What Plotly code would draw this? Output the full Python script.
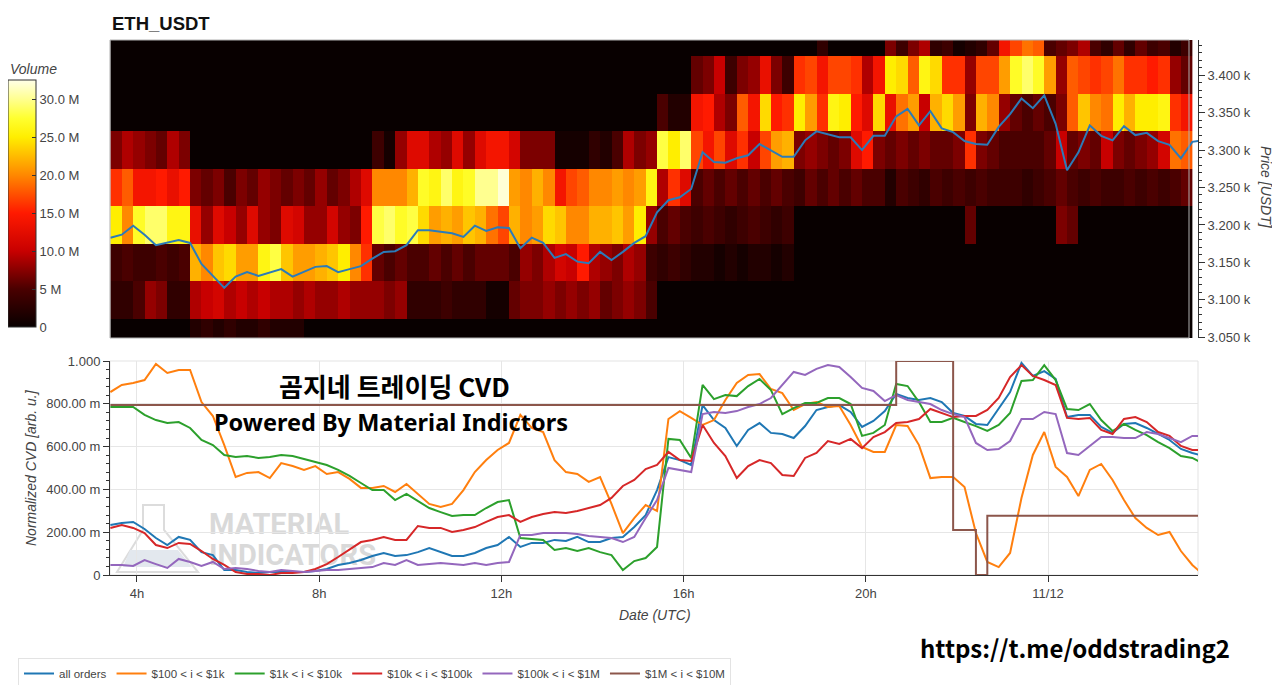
import pandas as pd
import plotly.graph_objects as go

# ---------------- page geometry helpers (layout only) ----------------
OFF_X, OFF_Y = 8, 8
FW, FH = 1272, 677


def px(x):
    return (x - OFF_X) / FW


def py(y):
    return 1 - (y - OFF_Y) / FH


FONT = "Liberation Sans, Arial, sans-serif"
KFONT = "Noto Sans CJK KR, Noto Sans, sans-serif"
LFONT = "Noto Sans, Open Sans, sans-serif"

# ---------------- data ----------------
times = pd.date_range("2024-11-11 03:25", periods=97, freq="15min")
hm_edges = times[:96]

price_levels = [3050, 3100, 3150, 3200, 3250, 3300, 3350, 3400, 3450]
price_ticks = [3050, 3100, 3150, 3200, 3250, 3300, 3350, 3400]
price_ticktext = ["3.050 k", "3.100 k", "3.150 k", "3.200 k", "3.250 k", "3.300 k", "3.350 k", "3.400 k"]

# volume per price bin (million USDT), 15-min columns
vol_3450 = [0, 0, 0, 0, 0, 0, 0, 0, 0, 0, 0, 0, 0, 0, 0, 0, 0, 0, 0,
            0, 0, 0, 0, 0, 0, 0, 0, 0, 0, 0, 0, 0, 0, 0, 0, 0, 0, 0,
            0, 0, 0, 0, 0, 0, 0, 0, 0, 0, 0, 0, 0, 0, 0, 0, 0, 0, 0,
            0, 0, 0, 0, 0, 3, 0, 0, 0, 0, 0, 7, 4, 7, 9, 3, 4, 1, 2,
            3, 6, 14, 17, 19, 18, 5, 6, 7, 9, 5, 3, 6, 3, 6, 4, 5, 2, 4]
vol_3400 = [0, 0, 0, 0, 0, 0, 0, 0, 0, 0, 0, 0, 0, 0, 0, 0, 0, 0, 0,
            0, 0, 0, 0, 0, 0, 0, 0, 0, 0, 0, 0, 0, 0, 0, 0, 0, 0, 0,
            0, 0, 0, 0, 0, 0, 0, 0, 0, 0, 0, 0, 0, 6, 7, 10, 4, 7, 8,
            13, 7, 4, 16, 17, 14, 17, 17, 16, 9, 14, 25, 24, 18, 26, 24, 16, 16, 8,
            17, 17, 21, 27, 29, 27, 21, 8, 18, 17, 16, 17, 19, 16, 16, 15, 16, 8, 6]
vol_3350 = [0, 0, 0, 0, 0, 0, 0, 0, 0, 0, 0, 0, 0, 0, 0, 0, 0, 0, 0,
            0, 0, 0, 0, 0, 0, 0, 0, 0, 0, 0, 0, 0, 0, 0, 0, 0, 0, 0,
            0, 0, 0, 0, 0, 0, 0, 0, 0, 0, 5, 2, 2, 14, 15, 9, 7, 18, 14,
            24, 15, 16, 25, 21, 16, 26, 25, 15, 12, 24, 13, 19, 21, 10, 22, 24, 21, 7,
            22, 20, 8, 6, 5, 6, 5, 7, 18, 23, 20, 19, 25, 22, 25, 25, 26, 16, 14]
vol_3300 = [7, 9, 8, 7, 6, 9, 7, 0, 0, 0, 0, 0, 0, 0, 0, 0, 0, 0, 0,
            0, 0, 0, 0, 4, 1, 8, 12, 12, 9, 8, 12, 8, 12, 14, 14, 11, 7, 7,
            7, 1, 1, 1, 3, 2, 5, 9, 7, 8, 28, 25, 29, 17, 14, 17, 12, 16, 10,
            17, 21, 22, 7, 8, 7, 6, 7, 12, 15, 7, 6, 7, 6, 7, 6, 6, 7, 16,
            7, 6, 5, 5, 5, 5, 6, 10, 6, 7, 6, 10, 7, 6, 7, 8, 11, 19, 18]
vol_3250 = [16, 18, 14, 14, 15, 13, 15, 7, 6, 7, 5, 7, 6, 8, 7, 6, 7, 6, 8,
            6, 7, 9, 12, 20, 20, 20, 22, 27, 26, 29, 26, 27, 30, 30, 32, 21, 20, 22,
            20, 14, 17, 18, 20, 20, 21, 20, 21, 26, 9, 16, 12, 5, 6, 5, 6, 5, 6,
            5, 6, 5, 4, 6, 5, 6, 5, 6, 5, 5, 2, 5, 4, 3, 5, 4, 5, 4,
            5, 4, 4, 4, 3, 4, 5, 6, 5, 4, 5, 4, 4, 5, 4, 5, 4, 5, 6]
vol_3200 = [25, 20, 27, 29, 29, 26, 26, 13, 8, 12, 10, 8, 12, 8, 7, 12, 11, 8, 8,
            11, 8, 7, 15, 28, 29, 27, 28, 24, 21, 22, 21, 23, 22, 19, 17, 22, 20, 21,
            24, 23, 20, 20, 22, 22, 23, 21, 25, 8, 5, 6, 5, 4, 5, 4, 3, 4, 5,
            4, 3, 4, 0, 0, 0, 0, 0, 0, 0, 0, 0, 0, 0, 0, 0, 0, 0, 6,
            0, 0, 0, 0, 0, 0, 0, 7, 6, 0, 0, 0, 0, 0, 0, 0, 0, 0, 0]
vol_3150 = [4, 5, 4, 4, 5, 4, 5, 22, 20, 23, 24, 21, 21, 26, 28, 23, 21, 21, 22,
            23, 25, 20, 16, 6, 5, 6, 5, 5, 6, 5, 6, 5, 6, 6, 6, 5, 8, 7,
            9, 11, 10, 15, 9, 8, 7, 9, 8, 4, 3, 4, 3, 2, 2, 1, 2, 1, 2,
            2, 1, 2, 0, 0, 0, 0, 0, 0, 0, 0, 0, 0, 0, 0, 0, 0, 0, 0,
            0, 0, 0, 0, 0, 0, 0, 0, 0, 0, 0, 0, 0, 0, 0, 0, 0, 0, 0]
vol_3100 = [3, 3, 5, 8, 7, 3, 3, 9, 10, 11, 9, 10, 9, 10, 9, 9, 8, 9, 8,
            8, 9, 8, 8, 8, 7, 8, 3, 3, 3, 4, 3, 3, 3, 1, 1, 6, 7, 7,
            8, 7, 8, 7, 8, 6, 7, 8, 7, 5, 0, 0, 0, 0, 0, 0, 0, 0, 0,
            0, 0, 0, 0, 0, 0, 0, 0, 0, 0, 0, 0, 0, 0, 0, 0, 0, 0, 0,
            0, 0, 0, 0, 0, 0, 0, 0, 0, 0, 0, 0, 0, 0, 0, 0, 0, 0, 0]
vol_3050 = [0, 0, 0, 0, 0, 0, 0, 2, 3, 2, 3, 2, 2, 3, 2, 2, 2, 0, 0,
            0, 0, 0, 0, 0, 0, 0, 0, 0, 0, 0, 0, 0, 0, 0, 0, 0, 0, 0,
            0, 0, 0, 0, 0, 0, 0, 0, 0, 0, 0, 0, 0, 0, 0, 0, 0, 0, 0,
            0, 0, 0, 0, 0, 0, 0, 0, 0, 0, 0, 0, 0, 0, 0, 0, 0, 0, 0,
            0, 0, 0, 0, 0, 0, 0, 0, 0, 0, 0, 0, 0, 0, 0, 0, 0, 0, 0]

price = [3183, 3187, 3199, 3187, 3173, 3176, 3180, 3176, 3148, 3132,
         3116, 3131, 3137, 3132, 3136, 3141, 3131, 3137, 3144, 3145,
         3137, 3141, 3145, 3155, 3164, 3165, 3173, 3193, 3193, 3191,
         3189, 3184, 3199, 3192, 3197, 3196, 3169, 3183, 3176, 3156,
         3161, 3151, 3149, 3164, 3153, 3164, 3176, 3185, 3217, 3233,
         3237, 3248, 3297, 3284, 3283, 3289, 3293, 3308, 3299, 3291,
         3291, 3313, 3325, 3321, 3317, 3317, 3300, 3319, 3319, 3345,
         3355, 3333, 3352, 3329, 3324, 3312, 3308, 3307, 3331, 3348,
         3369, 3356, 3373, 3335, 3273, 3297, 3333, 3319, 3313, 3332,
         3320, 3323, 3312, 3307, 3289, 3311, 3313]

cvd_all = [0.234, 0.243, 0.248, 0.215, 0.173, 0.140, 0.178, 0.164, 0.107, 0.093,
           0.023, 0.023, 0.014, 0.009, 0.014, 0.014, 0.014, 0.014, 0.019, 0.028,
           0.047, 0.056, 0.070, 0.089, 0.103, 0.089, 0.093, 0.107, 0.126, 0.107,
           0.089, 0.089, 0.103, 0.126, 0.140, 0.178, 0.131, 0.150, 0.150, 0.164,
           0.159, 0.178, 0.154, 0.154, 0.173, 0.178, 0.224, 0.280, 0.397, 0.551,
           0.537, 0.514, 0.794, 0.724, 0.687, 0.603, 0.678, 0.710, 0.664, 0.659,
           0.640, 0.696, 0.771, 0.785, 0.794, 0.762, 0.692, 0.720, 0.766, 0.846,
           0.827, 0.818, 0.827, 0.808, 0.757, 0.743, 0.706, 0.701, 0.780, 0.855,
           0.991, 0.930, 0.953, 0.916, 0.738, 0.748, 0.748, 0.692, 0.664, 0.706,
           0.710, 0.687, 0.659, 0.631, 0.589, 0.570, 0.556]
cvd_100_1k = [0.855, 0.888, 0.897, 0.911, 0.986, 0.944, 0.958, 0.958, 0.808, 0.743,
              0.607, 0.458, 0.477, 0.481, 0.453, 0.523, 0.509, 0.491, 0.509, 0.472,
              0.481, 0.449, 0.407, 0.407, 0.416, 0.388, 0.425, 0.379, 0.332, 0.318,
              0.332, 0.397, 0.481, 0.537, 0.584, 0.617, 0.748, 0.687, 0.668, 0.537,
              0.481, 0.472, 0.435, 0.458, 0.332, 0.196, 0.266, 0.327, 0.299, 0.729,
              0.766, 0.734, 0.701, 0.724, 0.818, 0.897, 0.935, 0.939, 0.869, 0.850,
              0.771, 0.799, 0.808, 0.785, 0.790, 0.701, 0.598, 0.575, 0.575, 0.701,
              0.696, 0.607, 0.453, 0.458, 0.458, 0.411, 0.196, 0.061, 0.037, 0.103,
              0.360, 0.561, 0.668, 0.505, 0.458, 0.369, 0.491, 0.519, 0.444, 0.350,
              0.266, 0.220, 0.187, 0.201, 0.112, 0.047, 0.0]
cvd_1k_10k = [0.785, 0.785, 0.785, 0.748, 0.724, 0.710, 0.715, 0.687, 0.631, 0.607,
              0.561, 0.551, 0.556, 0.547, 0.551, 0.561, 0.556, 0.542, 0.528, 0.514,
              0.491, 0.463, 0.430, 0.397, 0.397, 0.350, 0.379, 0.346, 0.313, 0.294,
              0.276, 0.280, 0.280, 0.313, 0.341, 0.350, 0.173, 0.168, 0.164, 0.117,
              0.126, 0.112, 0.126, 0.107, 0.093, 0.023, 0.065, 0.079, 0.131, 0.636,
              0.631, 0.547, 0.888, 0.822, 0.841, 0.836, 0.883, 0.916, 0.864, 0.752,
              0.780, 0.804, 0.804, 0.827, 0.827, 0.799, 0.650, 0.664, 0.701, 0.893,
              0.883, 0.808, 0.715, 0.715, 0.734, 0.715, 0.696, 0.673, 0.701, 0.757,
              0.907, 0.911, 0.981, 0.911, 0.776, 0.771, 0.799, 0.724, 0.673, 0.706,
              0.678, 0.654, 0.621, 0.593, 0.556, 0.547, 0.519]
cvd_10k_100k = [0.220, 0.234, 0.220, 0.196, 0.140, 0.126, 0.150, 0.145, 0.112, 0.075,
                0.047, 0.014, 0.005, 0.005, 0.0, 0.009, 0.009, 0.014, 0.028, 0.051,
                0.084, 0.121, 0.154, 0.164, 0.178, 0.164, 0.164, 0.229, 0.220, 0.220,
                0.201, 0.210, 0.224, 0.248, 0.271, 0.280, 0.248, 0.271, 0.285, 0.294,
                0.290, 0.299, 0.313, 0.327, 0.360, 0.416, 0.444, 0.495, 0.514, 0.575,
                0.537, 0.533, 0.701, 0.617, 0.556, 0.453, 0.509, 0.537, 0.523, 0.467,
                0.463, 0.547, 0.570, 0.626, 0.612, 0.636, 0.593, 0.645, 0.668, 0.710,
                0.715, 0.729, 0.776, 0.757, 0.738, 0.743, 0.743, 0.771, 0.827, 0.925,
                0.981, 0.930, 0.911, 0.888, 0.734, 0.729, 0.734, 0.678, 0.659, 0.729,
                0.738, 0.715, 0.668, 0.650, 0.603, 0.584, 0.584]
cvd_100k_1m = [0.047, 0.047, 0.042, 0.070, 0.051, 0.033, 0.075, 0.061, 0.042, 0.061,
               0.028, 0.033, 0.028, 0.019, 0.014, 0.023, 0.019, 0.014, 0.019, 0.023,
               0.023, 0.028, 0.033, 0.037, 0.056, 0.047, 0.070, 0.047, 0.051, 0.056,
               0.051, 0.047, 0.056, 0.047, 0.056, 0.061, 0.187, 0.187, 0.196, 0.196,
               0.196, 0.192, 0.182, 0.178, 0.173, 0.154, 0.178, 0.266, 0.350, 0.500,
               0.491, 0.481, 0.752, 0.762, 0.757, 0.766, 0.785, 0.799, 0.827, 0.888,
               0.949, 0.935, 0.963, 0.981, 0.972, 0.925, 0.874, 0.860, 0.813, 0.841,
               0.818, 0.808, 0.799, 0.771, 0.752, 0.738, 0.617, 0.584, 0.589, 0.626,
               0.729, 0.729, 0.762, 0.752, 0.570, 0.561, 0.603, 0.645, 0.645, 0.640,
               0.640, 0.668, 0.659, 0.640, 0.621, 0.650, 0.650]
cvd_1m_10m = [0.794, 0.794, 0.794, 0.794, 0.794, 0.794, 0.794, 0.794, 0.794, 0.794,
              0.794, 0.794, 0.794, 0.794, 0.794, 0.794, 0.794, 0.794, 0.794, 0.794,
              0.794, 0.794, 0.794, 0.794, 0.794, 0.794, 0.794, 0.794, 0.794, 0.794,
              0.794, 0.794, 0.794, 0.794, 0.794, 0.794, 0.794, 0.794, 0.794, 0.794,
              0.794, 0.794, 0.794, 0.794, 0.794, 0.794, 0.794, 0.794, 0.794, 0.794,
              0.794, 0.794, 0.794, 0.794, 0.794, 0.794, 0.794, 0.794, 0.794, 0.794,
              0.794, 0.794, 0.794, 0.794, 0.794, 0.794, 0.794, 0.794, 0.794, 1.0,
              1.0, 1.0, 1.0, 1.0, 0.21, 0.21, 0.0, 0.277, 0.277, 0.277,
              0.277, 0.277, 0.277, 0.277, 0.277, 0.277, 0.277, 0.277, 0.277, 0.277,
              0.277, 0.277, 0.277, 0.277, 0.277, 0.277, 0.277]

series_names = ["all orders", "$100 < i < $1k", "$1k < i < $10k",
                "$10k < i < $100k", "$100k < i < $1M", "$1M < i < $10M"]
series_values = [cvd_all, cvd_100_1k, cvd_1k_10k, cvd_10k_100k, cvd_100k_1m, cvd_1m_10m]
series_colors = ["#1f77b4", "#ff7f0e", "#2ca02c", "#d62728", "#9467bd", "#8c564b"]

cvd_ticks = [0, 0.2, 0.4, 0.6, 0.8, 1.0]
cvd_ticktext = ["0", "200.00 m", "400.00 m", "600.00 m", "800.00 m", "1.000"]
time_ticks = ["2024-11-11 04:00", "2024-11-11 08:00", "2024-11-11 12:00",
              "2024-11-11 16:00", "2024-11-11 20:00", "2024-11-12 00:00"]
time_ticktext = ["4h", "8h", "12h", "16h", "20h", "11/12"]
x_range = ["2024-11-11 03:24:30", "2024-11-12 03:17:30"]

cb_vals = [0, 5e6, 10e6, 15e6, 20e6, 25e6, 30e6]
cb_text = ["0", "5 M", "10.0 M", "15.0 M", "20.0 M", "25.0 M", "30.0 M"]

volume_rows = [vol_3050, vol_3100, vol_3150, vol_3200, vol_3250,
               vol_3300, vol_3350, vol_3400, vol_3450]
z = [[v * 1e6 for v in row] for row in volume_rows]

hot = [[0.0, "#080000"], [0.154, "#4a0000"], [0.308, "#c80000"], [0.462, "#ff1a00"],
       [0.538, "#ff5000"], [0.615, "#ff8800"], [0.692, "#ffbb00"], [0.769, "#ffee00"],
       [0.846, "#ffff30"], [0.923, "#ffff90"], [1.0, "#ffffe8"]]

# ---------------- figure ----------------
fig = go.Figure()

fig.add_trace(go.Heatmap(
    x=hm_edges, y=price_levels, z=z, colorscale=hot, zmin=0, zmax=32.5e6,
    xaxis="x", yaxis="y", hoverinfo="skip", showlegend=False,
    colorbar=dict(x=px(8), xanchor="left", y=py(203.5), yanchor="middle",
                  len=247, lenmode="pixels", thickness=28, thicknessmode="pixels",
                  outlinecolor="#333", outlinewidth=1, xpad=0, ypad=0,
                  tickvals=cb_vals, ticktext=cb_text, ticks="inside", ticklen=4,
                  tickcolor="#333", tickfont=dict(size=13, color="#444", family=FONT)),
))
fig.add_trace(go.Scatter(x=times, y=price, mode="lines", xaxis="x", yaxis="y",
                         line=dict(color="#2b7bb9", width=2), showlegend=False,
                         hoverinfo="skip"))

for name, vals, col in zip(series_names, series_values, series_colors):
    fig.add_trace(go.Scatter(
        x=times, y=vals, mode="lines", name=name, xaxis="x2", yaxis="y2",
        line=dict(color=col, width=2, shape="hv" if name == "$1M < i < $10M" else "linear"),
    ))

WM_FONT = "Liberation Sans Narrow, Roboto, sans-serif"
shapes = [
    # bottom panel frame
    dict(type="rect", xref="paper", yref="paper", x0=px(110), x1=px(1198),
         y0=py(575), y1=py(361), line=dict(color="#e3e3e3", width=1), layer="below"),
    # top panel frame
    dict(type="rect", xref="paper", yref="paper", x0=px(110), x1=px(1189),
         y0=py(338), y1=py(40), line=dict(color="#b0b0b0", width=1), layer="above"),
    # watermark flask
    dict(type="path", xref="paper", yref="paper", layer="below",
         path=f"M {px(143)},{py(505)} L {px(164)},{py(505)} L {px(164)},{py(530)} "
              f"L {px(198)},{py(572)} L {px(117)},{py(572)} L {px(143)},{py(530)} Z",
         line=dict(color="#dcdcdc", width=2), fillcolor="rgba(0,0,0,0)"),
    dict(type="path", xref="paper", yref="paper", layer="below",
         path=f"M {px(130)},{py(550)} L {px(178)},{py(550)} L {px(192)},{py(567)} "
              f"L {px(123)},{py(567)} Z",
         line=dict(width=0), fillcolor="#e3e8ee"),
    dict(type="rect", xref="paper", yref="paper", layer="below",
         x0=px(203), x1=px(380), y0=py(538), y1=py(506), line=dict(width=0),
         label=dict(text="MATERIAL", textposition="middle left",
                    font=dict(size=29, color="#d9d9d9", family=WM_FONT, weight="bold"))),
    dict(type="rect", xref="paper", yref="paper", layer="below",
         x0=px(203), x1=px(400), y0=py(569), y1=py(537), line=dict(width=0),
         label=dict(text="INDICATORS", textposition="middle left",
                    font=dict(size=29, color="#d9d9d9", family=WM_FONT, weight="bold"))),
]

annotations = [
    dict(text="<b>ETH_USDT</b>", x=px(110), y=py(24), xref="paper", yref="paper",
         xanchor="left", yanchor="middle", showarrow=False,
         font=dict(size=18.5, color="#111", family=FONT)),
    dict(text="<i>Volume</i>", x=px(8), y=py(69), xref="paper", yref="paper",
         xanchor="left", yanchor="middle", showarrow=False,
         font=dict(size=14, color="#444", family=FONT)),
    dict(text="<i>Price [USDT]</i>", x=px(1266), y=py(187), xref="paper", yref="paper",
         xanchor="center", yanchor="middle", showarrow=False, textangle=90,
         font=dict(size=14, color="#444", family=FONT)),
    dict(text="<i>Normalized CVD [arb. u.]</i>", x=px(31), y=py(468), xref="paper", yref="paper",
         xanchor="center", yanchor="middle", showarrow=False, textangle=-90,
         font=dict(size=14, color="#444", family=FONT)),
    dict(text="<i>Date (UTC)</i>", x=px(655), y=py(615), xref="paper", yref="paper",
         xanchor="center", yanchor="middle", showarrow=False,
         font=dict(size=14, color="#444", family=FONT)),
    dict(text="<b>곰지네 트레이딩 CVD</b>", x=px(394), y=py(385), xref="paper", yref="paper",
         xanchor="center", yanchor="middle", showarrow=False,
         font=dict(size=26, color="#000", family=KFONT)),
    dict(text="<b>Powered By Material Indictors</b>", x=px(391), y=py(421.5), xref="paper", yref="paper",
         xanchor="center", yanchor="middle", showarrow=False,
         font=dict(size=23.5, color="#000", family=LFONT)),
    dict(text="<b>https://t.me/oddstrading2</b>", x=px(1075), y=py(647), xref="paper", yref="paper",
         xanchor="center", yanchor="middle", showarrow=False,
         font=dict(size=24, color="#000", family=KFONT)),
]

fig.update_layout(
    width=FW, height=FH, margin=dict(l=0, r=0, t=0, b=0, autoexpand=False),
    paper_bgcolor="white", plot_bgcolor="white",
    font=dict(family=FONT, size=13, color="#444"),
    showlegend=True,
    legend=dict(orientation="h", x=px(18), y=py(658), xanchor="left", yanchor="top",
                bordercolor="#e3e3e3", borderwidth=1, bgcolor="white",
                font=dict(size=11.5, color="#444", family=FONT)),
    xaxis=dict(domain=[px(110), px(1198)], anchor="y", range=x_range, type="date",
               showticklabels=False, showgrid=False, zeroline=False, ticks=""),
    yaxis=dict(domain=[py(338), py(40)], anchor="x", side="right", range=[3049, 3447],
               tickvals=price_ticks, ticktext=price_ticktext, ticks="outside", ticklen=6,
               tickcolor="#333", showline=True, linecolor="#333", linewidth=1,
               showgrid=False, zeroline=False,
               minor=dict(tick0=3050, dtick=10, ticks="outside", ticklen=3, tickcolor="#333"),
               tickfont=dict(size=13, color="#444")),
    xaxis2=dict(domain=[px(110), px(1198)], anchor="y2", range=x_range, type="date",
                tickvals=time_ticks, ticktext=time_ticktext, ticks="outside", ticklen=6,
                tickcolor="#333", showline=True, linecolor="#333", linewidth=1,
                showgrid=True, gridcolor="#e6e6e6", zeroline=False,
                tickfont=dict(size=13, color="#444")),
    yaxis2=dict(domain=[py(575), py(361)], anchor="x2", range=[0, 1],
                tickvals=cvd_ticks, ticktext=cvd_ticktext, ticks="outside", ticklen=6,
                tickcolor="#333", showline=True, linecolor="#333", linewidth=1,
                showgrid=True, gridcolor="#e6e6e6", zeroline=False,
                minor=dict(tick0=0, dtick=0.04, ticks="outside", ticklen=3, tickcolor="#333"),
                tickfont=dict(size=13, color="#444")),
    shapes=shapes,
    annotations=annotations,
)

fig.write_html("out.html")
